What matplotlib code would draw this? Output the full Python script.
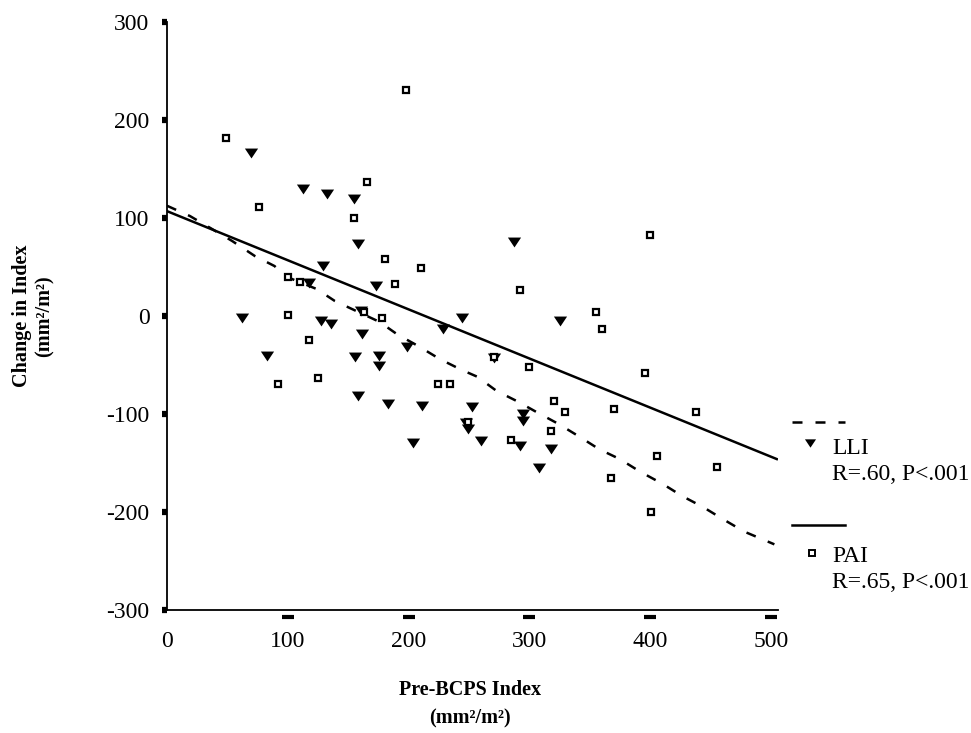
import matplotlib
matplotlib.use("Agg")
import matplotlib.pyplot as plt
import matplotlib.transforms as mtransforms
from matplotlib.lines import Line2D

# LLI: change in index vs pre-BCPS index (filled triangles)
lli_x = [69.5, 112.3, 132.2, 154.8, 158.1, 129.1, 173.0, 117.5, 160.3, 62.1,
         127.5, 135.5, 161.2, 82.5, 155.6, 175.5, 175.5, 198.4, 158.1, 182.9,
         203.6, 287.1, 244.2, 325.3, 228.5, 270.7, 211.1, 252.2, 294.9, 294.9,
         247.5, 249.2, 259.7, 292.2, 317.9, 308.0]
lli_y = [166.3, 129.6, 124.5, 119.4, 73.5, 51.0, 30.6, 33.7, 5.4, -2.0,
         -5.1, -8.2, -18.4, -41.1, -41.8, -40.8, -50.7, -31.6, -81.3, -89.8,
         -129.6, 75.8, -2.0, -4.8, -13.3, -42.9, -91.8, -93.2, -100.0, -106.8,
         -109.2, -115.3, -127.2, -133.0, -135.7, -155.1]

# PAI: change in index vs pre-BCPS index (open squares)
pai_x = [197.6, 48.8, 165.3, 76.2, 154.8, 180.5, 210.3, 188.7, 99.9, 110.1,
         163.1, 177.7, 100.2, 117.8, 125.0, 92.1, 270.7, 299.7, 224.1, 234.3,
         320.4, 330.0, 249.4, 317.6, 284.5, 292.2, 400.4, 355.1, 360.1, 395.7,
         370.0, 438.5, 405.6, 455.1, 368.1, 401.2]
pai_y = [230.6, 181.9, 137.0, 111.5, 100.0, 58.2, 49.0, 32.7, 40.1, 35.0,
         4.4, -2.0, 1.3, -24.2, -63.6, -69.4, -41.8, -52.0, -69.4, -69.4,
         -86.4, -97.7, -108.5, -117.7, -126.2, 26.5, 83.0, 4.1, -13.3, -58.2,
         -94.9, -97.7, -142.9, -154.1, -165.3, -200.0]

# Smoothed LLI trend (dashed)
lli_trend_x = [0, 19, 37, 54, 73, 89, 99, 124, 139, 176, 191, 208, 226, 244,
               257, 273, 290, 306, 324, 342, 358, 375, 392, 410, 427, 444,
               460, 478, 503]
lli_trend_y = [112.5, 102, 89, 76.5, 61, 51, 40, 27.5, 15.3, -6, -19, -30.6,
               -44, -55, -62, -76.5, -87, -98, -110, -123.5, -136, -146,
               -159, -171, -184, -195, -207, -220, -233]

# PAI least-squares line (solid)
pai_fit_x = [0, 505]
pai_fit_y = [107, -146]

x_ticks = [0, 100, 200, 300, 400, 500]
y_ticks = [-300, -200, -100, 0, 100, 200, 300]

plt.rcParams['font.family'] = ['Liberation Serif', 'DejaVu Serif']

W, H = 971, 733
fig = plt.figure(figsize=(W / 100, H / 100), dpi=100)


def fpos(px, py):
    """Pixel position (from top-left) to figure fraction."""
    return px / W, 1 - py / H


ax = fig.add_axes([167 / W, 1 - 610 / H, (778 - 167) / W, (610 - 22) / H])

tri = [(-1, 0.75), (1, 0.75), (0, -0.75)]

ax.plot(lli_trend_x, lli_trend_y, color='black', lw=1.8,
        linestyle=(0, (4, 5.2)), solid_capstyle='butt', dash_capstyle='butt')
ax.plot(pai_fit_x, pai_fit_y, color='black', lw=1.8)

ax.plot(lli_x, lli_y, linestyle='none', marker=tri, ms=9.5,
        color='black', markeredgewidth=0)
ax.plot(pai_x, pai_y, linestyle='none', marker='s', ms=4.6,
        markerfacecolor='white', markeredgecolor='black', markeredgewidth=1.6)

ax.set_xlim(0, 506)
ax.set_ylim(-300, 300)
for s in ('top', 'right'):
    ax.spines[s].set_visible(False)
for s in ('left', 'bottom'):
    ax.spines[s].set_linewidth(1.3)

ax.set_yticks(y_ticks)
ax.set_yticklabels([str(v) for v in y_ticks])
ax.tick_params(axis='y', direction='out', length=3.6, width=4.5,
               pad=9, labelsize=17)
ax.set_xticks(x_ticks)
ax.set_xticklabels([str(v) for v in x_ticks])
ax.tick_params(axis='x', length=0, pad=15, labelsize=17)

# short dash marks hanging below the x axis
trans = mtransforms.blended_transform_factory(ax.transData, ax.transAxes)
ax.plot(x_ticks[1:], [-0.012] * (len(x_ticks) - 1), transform=trans,
        linestyle='none', marker='_', ms=8, mew=3, color='black',
        clip_on=False)

# axis titles
bold = dict(fontweight='bold', fontsize=14.5, ha='center', va='center')
fig.text(*fpos(22, 316), 'Change in Index', rotation=90, **bold)
fig.text(*fpos(45, 316), '(mm²/m²)', rotation=90, **bold)
fig.text(*fpos(470, 690), 'Pre-BCPS Index', **bold)
fig.text(*fpos(470, 718), '(mm²/m²)', **bold)

# key
def key_line(x0, x1, y, **kw):
    (fx0, fy), (fx1, _) = fpos(x0, y), fpos(x1, y)
    fig.add_artist(Line2D([fx0, fx1], [fy, fy], transform=fig.transFigure,
                          color='black', lw=1.8, **kw))


def key_marker(x, y, **kw):
    fx, fy = fpos(x, y)
    fig.add_artist(Line2D([fx], [fy], transform=fig.transFigure,
                          linestyle='none', color='black', **kw))


key_line(792, 845, 422, linestyle=(0, (4, 5.2)), dash_capstyle='butt')
key_marker(810, 443, marker=tri, ms=8, markeredgewidth=0)
fig.text(*fpos(832, 448), 'LLI', fontsize=17, ha='left', va='center')
fig.text(*fpos(832, 475), 'R=.60, P<.001', fontsize=17, ha='left', va='center')

key_line(792, 845, 525)
key_marker(812, 553, marker='s', ms=4, markerfacecolor='white',
           markeredgewidth=1.4)
fig.text(*fpos(832, 557), 'PAI', fontsize=17, ha='left', va='center')
fig.text(*fpos(832, 582), 'R=.65, P<.001', fontsize=17, ha='left', va='center')

fig.savefig('out.png', dpi=100)
